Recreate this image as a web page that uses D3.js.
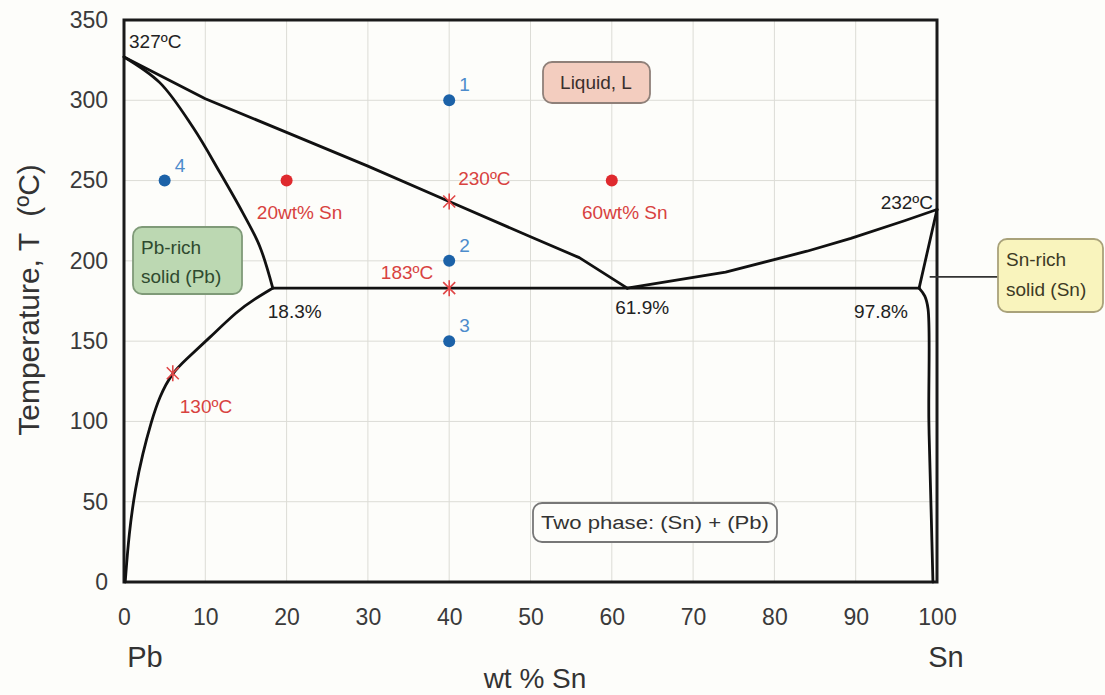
<!DOCTYPE html>
<html>
<head>
<meta charset="utf-8">
<script src="https://cdn.jsdelivr.net/npm/d3@7/dist/d3.min.js"></script>
<style>
  html, body { margin: 0; padding: 0; background: #fdfdfa; }
  svg { display: block; font-family: "Liberation Sans", Arial, sans-serif; }
</style>
</head>
<body>
<svg id="chart" width="1105" height="695"></svg>
<script>
// ---------- data ----------
const xTicks = [0, 10, 20, 30, 40, 50, 60, 70, 80, 90, 100];
const yTicks = [0, 50, 100, 150, 200, 250, 300, 350];

const liquidusLeft  = [[0,327],[10,301],[20,280],[30,259],[40,237],[50,215],[56,202],[61.9,183]];
const liquidusRight = [[61.9,183],[74,193],[84,206],[89.4,214],[96,225],[100,232]];
const solidusLeft   = [[0,327],[4.4,311],[8.5,283],[11.8,255],[14.6,230],[16.7,209],[18.3,183]];
const solvusLeft    = [[18.3,183],[16,176],[14,169],[10.5,152],[7.5,138],[5.9,130],[4.4,116],[3.3,99],[2.3,80],[1.4,59],[0.6,30],[0.15,0]];
const solidusRight  = [[100,232],[97.8,183]];
const solvusRight   = [[97.8,183],[98.5,178],[98.9,170],[99.0,100],[99.3,40],[99.5,0]];
const eutectic      = [[18.3,183],[97.8,183]];

const bluePoints  = [[40,300,"1"],[40,200,"2"],[40,150,"3"],[5,250,"4"]];
const redPoints   = [[20,250,"20wt% Sn"],[60,250,"60wt% Sn"]];
const redStars    = [[40,237,"230ºC"],[40,183,"183ºC"],[6,130,"130ºC"]];
const blackLabels = [[0,327,"327ºC"],[100,232,"232ºC"],[18.3,183,"18.3%"],[61.9,183,"61.9%"],[97.8,183,"97.8%"]];

// ---------- layout ----------
const svg = d3.select("#chart");
const m = {left: 124, top: 20, right: 168, bottom: 113};
const W = 1105 - m.left - m.right, H = 695 - m.top - m.bottom;
const x = d3.scaleLinear().domain([0, 100]).range([m.left, m.left + W]);
const y = d3.scaleLinear().domain([0, 350]).range([m.top + H, m.top]);
const font = '"Liberation Sans", Arial, sans-serif';

svg.append("rect").attr("width", 1105).attr("height", 695).attr("fill", "#fdfdfa");

// grid
const grid = svg.append("g");
grid.selectAll(".gx").data(xTicks.slice(1, -1)).enter().append("line")
  .attr("x1", d => x(d)).attr("x2", d => x(d)).attr("y1", y(0)).attr("y2", y(350))
  .attr("stroke", "#dcdcd6").attr("stroke-width", 1);
grid.selectAll(".gy").data(yTicks.slice(1, -1)).enter().append("line")
  .attr("y1", d => y(d)).attr("y2", d => y(d)).attr("x1", x(0)).attr("x2", x(100))
  .attr("stroke", "#dcdcd6").attr("stroke-width", 1);

// axes
const xAxis = svg.append("g").attr("transform", `translate(0,${y(0)})`)
  .call(d3.axisBottom(x).tickValues(xTicks).tickSize(0).tickPadding(27));
const yAxis = svg.append("g").attr("transform", `translate(${x(0)},0)`)
  .call(d3.axisLeft(y).tickValues(yTicks).tickSize(0).tickPadding(16));
[xAxis, yAxis].forEach(a => {
  a.select(".domain").remove();
  a.selectAll("text").attr("font-family", font).attr("font-size", 23).attr("fill", "#3a3a3a");
});

// plot frame
svg.append("rect").attr("x", x(0)).attr("y", y(350)).attr("width", x(100) - x(0)).attr("height", y(0) - y(350))
  .attr("fill", "none").attr("stroke", "#1a1a1a").attr("stroke-width", 3);

// axis titles
svg.append("text").attr("transform", `translate(39,300) rotate(-90)`)
  .attr("text-anchor", "middle").attr("font-size", 30).attr("fill", "#333")
  .attr("xml:space", "preserve").text("Temperature, T  (ºC)");
svg.append("text").attr("x", 535).attr("y", 688).attr("text-anchor", "middle")
  .attr("font-size", 28).attr("fill", "#333").text("wt % Sn");
svg.append("text").attr("x", x(0) + 21).attr("y", 667).attr("text-anchor", "middle")
  .attr("font-size", 29).attr("fill", "#333").text("Pb");
svg.append("text").attr("x", x(100) + 9).attr("y", 667).attr("text-anchor", "middle")
  .attr("font-size", 29).attr("fill", "#333").text("Sn");

// phase boundaries
const lineLin = d3.line().x(d => x(d[0])).y(d => y(d[1]));
const lineCurve = d3.line().x(d => x(d[0])).y(d => y(d[1])).curve(d3.curveCatmullRom.alpha(0.5));
const lineBasis = d3.line().x(d => x(d[0])).y(d => y(d[1])).curve(d3.curveBasis);
const curves = svg.append("g").attr("fill", "none").attr("stroke", "#111").attr("stroke-width", 2.8)
  .attr("stroke-linejoin", "round").attr("stroke-linecap", "round");
curves.append("path").attr("d", lineLin(liquidusLeft));
curves.append("path").attr("d", lineLin(liquidusRight));
curves.append("path").attr("d", lineCurve(solidusLeft));
curves.append("path").attr("d", lineBasis(solvusLeft));
curves.append("path").attr("d", lineLin(solidusRight));
curves.append("path").attr("d", lineCurve(solvusRight));
curves.append("path").attr("d", lineLin(eutectic));

// annotation boxes
function box(x0, y0, w, h, fill, stroke) {
  svg.append("rect").attr("x", x0).attr("y", y0).attr("width", w).attr("height", h)
    .attr("rx", 9).attr("ry", 9).attr("fill", fill).attr("stroke", stroke).attr("stroke-width", 1.8);
}
// leader line to Sn-rich box
svg.append("line").attr("x1", x(99.1)).attr("y1", y(190)).attr("x2", 998).attr("y2", y(190))
  .attr("stroke", "#333").attr("stroke-width", 1.6);

box(543, 62, 107, 41, "#f3cdbf", "#8f8079");
svg.append("text").attr("x", 596).attr("y", 89).attr("text-anchor", "middle").attr("font-size", 19)
  .attr("fill", "#3a2f2c").text("Liquid, L");

box(133, 227, 109, 67, "#bcd8b2", "#7f9a78");
svg.append("text").attr("x", 141).attr("y", 254).attr("font-size", 19).attr("fill", "#2f4a2f").text("Pb-rich");
svg.append("text").attr("x", 141).attr("y", 283).attr("font-size", 19).attr("fill", "#2f4a2f").text("solid (Pb)");

box(998, 239, 105, 73, "#f9f4bd", "#a9a27a");
svg.append("text").attr("x", 1006).attr("y", 266).attr("font-size", 19).attr("fill", "#3d3a25").text("Sn-rich");
svg.append("text").attr("x", 1006).attr("y", 296).attr("font-size", 19).attr("fill", "#3d3a25").text("solid (Sn)");

box(533, 503, 244, 39, "#fdfdfa", "#777");
svg.append("text").attr("x", 655).attr("y", 529).attr("text-anchor", "middle").attr("font-size", 18)
  .attr("fill", "#333").attr("textLength", 228).attr("lengthAdjust", "spacingAndGlyphs").text("Two phase: (Sn) + (Pb)");

// black labels
const blackOffsets = {"327ºC": [5, -9, "start"], "232ºC": [-4, 0, "end"], "18.3%": [-5, 30, "start"],
                      "61.9%": [-12, 26, "start"], "97.8%": [-65, 30, "start"]};
svg.append("g").selectAll("text").data(blackLabels).enter().append("text")
  .attr("x", d => x(d[0]) + blackOffsets[d[2]][0])
  .attr("y", d => y(d[1]) + blackOffsets[d[2]][1])
  .attr("text-anchor", d => blackOffsets[d[2]][2])
  .attr("font-size", 19).attr("fill", "#222").text(d => d[2]);

// blue points
const bp = svg.append("g");
bp.selectAll("circle").data(bluePoints).enter().append("circle")
  .attr("cx", d => x(d[0])).attr("cy", d => y(d[1])).attr("r", 6).attr("fill", "#1c62a8");
bp.selectAll("text").data(bluePoints).enter().append("text")
  .attr("x", d => x(d[0]) + 10).attr("y", d => y(d[1]) - 9)
  .attr("font-size", 19).attr("fill", "#4d8ccc").text(d => d[2]);

// red points
const rp = svg.append("g");
rp.selectAll("circle").data(redPoints).enter().append("circle")
  .attr("cx", d => x(d[0])).attr("cy", d => y(d[1])).attr("r", 6).attr("fill", "#df2a2e");
rp.selectAll("text").data(redPoints).enter().append("text")
  .attr("x", d => x(d[0]) + 13).attr("y", d => y(d[1]) + 38).attr("text-anchor", "middle")
  .attr("font-size", 19).attr("fill", "#d8423f").text(d => d[2]);

// red stars (asterisk)
const starOffsets = {"230ºC": [9, -16, "start"], "183ºC": [-16, -9, "end"], "130ºC": [7, 40, "start"]};
const rs = svg.append("g");
rs.selectAll("path").data(redStars).enter().append("path")
  .attr("transform", d => `translate(${x(d[0])},${y(d[1])})`)
  .attr("d", "M-6,-6L6,6M-6,6L6,-6M0,-8L0,8")
  .attr("stroke", "#e04646").attr("stroke-width", 1.6).attr("fill", "none");
rs.selectAll("text").data(redStars).enter().append("text")
  .attr("x", d => x(d[0]) + starOffsets[d[2]][0])
  .attr("y", d => y(d[1]) + starOffsets[d[2]][1])
  .attr("text-anchor", d => starOffsets[d[2]][2])
  .attr("font-size", 19).attr("fill", "#d8423f").text(d => d[2]);
</script>
</body>
</html>
